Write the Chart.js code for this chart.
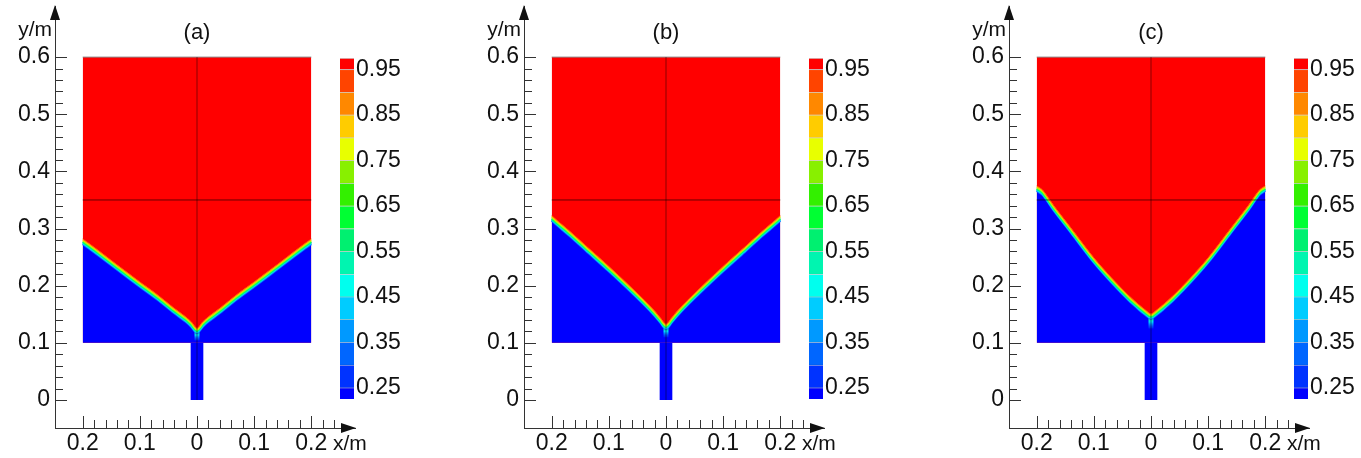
<!DOCTYPE html>
<html>
<head>
<meta charset="utf-8">
<script src="https://cdn.jsdelivr.net/npm/chart.js@4.4.0/dist/chart.umd.min.js"></script>
<style>
  body { margin: 0; background: #fff; }
  #wrap { position: relative; width: 1361px; height: 458px; overflow: hidden; }
  #wrap canvas { position: absolute; top: 0; }
</style>
</head>
<body>
<div id="wrap"></div>
<script>
// interface height y (m) at these |x| (m) values
const halfX = [0.2, 0.19, 0.17, 0.14, 0.1, 0.07, 0.04, 0.02, 0.01, 0];
const interfaceA = [0.277, 0.270, 0.255, 0.232, 0.202, 0.180, 0.156, 0.141, 0.132, 0.121];
const interfaceB = [0.318, 0.309, 0.292, 0.265, 0.229, 0.201, 0.172, 0.151, 0.139, 0.128];
const interfaceC = [0.370, 0.363, 0.335, 0.296, 0.244, 0.210, 0.179, 0.161, 0.153, 0.146];
// lower end of the mixed tail under the cusp
const tailEnd = [0.104, 0.110, 0.125];
const panelTitles = ["(a)", "(b)", "(c)"];

// domain geometry (m)
const boxX = [-0.2, 0.2];
const boxY = [0.1, 0.6];
const pipeX = [-0.0115, 0.0115];
const pipeY = [0, 0.1];
const blockLineY = 0.35;

// axes
const yMajor = [0, 0.1, 0.2, 0.3, 0.4, 0.5, 0.6];
const yTickLabels = ["0", "0.1", "0.2", "0.3", "0.4", "0.5", "0.6"];
const xMajor = [-0.2, -0.1, 0, 0.1, 0.2];
const xTickLabels = ["0.2", "0.1", "0", "0.1", "0.2"];

// colour bar (volume fraction)
const bandEdges = [0.225, 0.25, 0.3, 0.35, 0.4, 0.45, 0.5, 0.55, 0.6, 0.65, 0.7, 0.75, 0.8, 0.85, 0.9, 0.95, 0.975];
const bandColors = ["#0000ff", "#0033ff", "#0066ff", "#0099ff", "#00ccff", "#00ffee", "#00f5b0", "#00f070",
  "#00ff33", "#33f000", "#88f000", "#e8ff00", "#ffcc00", "#ff8800", "#ff4400", "#ff0000"];
const colorbarTicks = [0.25, 0.35, 0.45, 0.55, 0.65, 0.75, 0.85, 0.95];

const panelLeft = [0, 469, 954];
const RED = "#ff0000";
const BLUE = "#0000ff";

Chart.defaults.font.family = '"Liberation Sans", Arial, sans-serif';
Chart.defaults.font.size = 23;
Chart.defaults.color = "#111";

const minorY = Array.from({ length: 31 }, (_, i) => Math.round(i * 2) / 100);
const minorX = Array.from({ length: 23 }, (_, i) => Math.round(i * 2 - 20) / 100);

function labelFor(majors, labels, v) {
  const i = majors.findIndex(m => Math.abs(m - v) < 1e-6);
  return i < 0 ? "" : labels[i];
}

function interfacePoints(ys) {
  const left = halfX.map((h, i) => ({ x: -h, y: ys[i] }));
  const right = halfX.slice(0, -1).map((h, i) => ({ x: h, y: ys[i] })).reverse();
  return left.concat(right);
}

function line(points, extra) {
  return Object.assign({
    data: points, showLine: true, pointRadius: 0, borderWidth: 1,
    borderColor: "transparent", fill: false, tension: 0
  }, extra);
}

// shift some outlines a little so the smeared interface shows its colour layers
const shiftPlugin = {
  id: "shiftPlugin",
  beforeDatasetDraw(chart, args) {
    const ds = chart.data.datasets[args.index];
    chart.ctx.save();
    if (ds.shiftY) chart.ctx.translate(0, ds.shiftY);
  },
  afterDatasetDraw(chart) {
    chart.ctx.restore();
  }
};

// inward tick marks, arrow heads, axis names and the panel title
const axisDeco = {
  id: "axisDeco",
  afterDraw(chart, args, opts) {
    const { ctx, chartArea: a, scales: { x, y } } = chart;
    ctx.save();
    ctx.strokeStyle = "#333";
    ctx.lineWidth = 1;
    ctx.beginPath();
    y.ticks.forEach(t => {
      const py = Math.round(y.getPixelForValue(t.value)) + 0.5;
      ctx.moveTo(a.left, py);
      ctx.lineTo(a.left + (t.label ? 12 : 8), py);
    });
    x.ticks.forEach(t => {
      const px = Math.round(x.getPixelForValue(t.value)) + 0.5;
      ctx.moveTo(px, a.bottom);
      ctx.lineTo(px, a.bottom - (t.label ? 12 : 8));
    });
    ctx.stroke();

    ctx.fillStyle = "#111";
    ctx.beginPath();
    ctx.moveTo(a.left, a.top - 1);
    ctx.lineTo(a.left - 5, a.top + 14);
    ctx.lineTo(a.left + 5, a.top + 14);
    ctx.closePath();
    ctx.fill();
    ctx.beginPath();
    ctx.moveTo(a.right + 1, a.bottom);
    ctx.lineTo(a.right - 14, a.bottom - 5);
    ctx.lineTo(a.right - 14, a.bottom + 5);
    ctx.closePath();
    ctx.fill();

    ctx.font = '21px "Liberation Sans", Arial, sans-serif';
    ctx.textAlign = "right";
    ctx.textBaseline = "alphabetic";
    ctx.fillText("y/m", a.left - 3, 36);
    ctx.textAlign = "left";
    ctx.textBaseline = "middle";
    ctx.fillText("x/m", a.right - 22, a.bottom + 16);
    ctx.font = '22px "Liberation Sans", Arial, sans-serif';
    ctx.textAlign = "center";
    ctx.textBaseline = "alphabetic";
    ctx.fillText(opts.title, x.getPixelForValue(0), 39);
    ctx.restore();
  }
};

function fieldConfig(ys, tailY, title) {
  const pts = interfacePoints(ys);
  const tipY = ys[ys.length - 1];
  const tailGradient = (c) => {
    const { chart } = c;
    if (!chart.chartArea) return "#00e0ff";
    const y0 = chart.scales.y.getPixelForValue(tipY);
    const y1 = chart.scales.y.getPixelForValue(tailY);
    const g = chart.ctx.createLinearGradient(0, y0, 0, y1);
    g.addColorStop(0, "#00ff60");
    g.addColorStop(0.45, "#00d8ff");
    g.addColorStop(1, "rgba(0,80,255,0.4)");
    return g;
  };
  const band = (color, width, shift) =>
    line(pts, { borderColor: color, borderWidth: width, shiftY: shift, tension: 0.3, borderJoinStyle: "round" });

  // listed from bottom layer to top layer
  const layers = [
    line([{ x: boxX[0], y: boxY[1] }, { x: boxX[1], y: boxY[1] }],
      { fill: { value: boxY[0] }, backgroundColor: RED, borderColor: "#8c8c8c" }),
    line(pts, { fill: { value: boxY[0] }, backgroundColor: BLUE, tension: 0.3 }),
    line([{ x: pipeX[0], y: pipeY[1] }, { x: pipeX[1], y: pipeY[1] }],
      { fill: { value: pipeY[0] }, backgroundColor: BLUE }),
    line([{ x: 0, y: tipY }, { x: 0, y: tailY }], { borderColor: tailGradient, borderWidth: 5 }),
    band("#0070ff", 2, 2.4),
    band("#00d8ff", 2, 1.4),
    band("#00ff66", 2.2, 0.2),
    band("#aaff00", 1.6, -1),
    band("#ffc000", 1.3, -1.9),
    band("#ff6000", 1, -2.6),
    line([{ x: 0, y: pipeY[0] }, { x: 0, y: boxY[1] }], { borderColor: "rgba(0,0,0,0.45)", borderWidth: 1 }),
    line([{ x: boxX[0], y: blockLineY }, { x: boxX[1], y: blockLineY }], { borderColor: "rgba(0,0,0,0.6)", borderWidth: 1 })
  ];

  return {
    type: "scatter",
    data: { datasets: layers.reverse() },
    options: {
      responsive: false,
      animation: false,
      events: [],
      layout: { padding: { top: 6, right: 45, left: 0, bottom: 0 } },
      plugins: { legend: { display: false }, tooltip: { enabled: false }, axisDeco: { title: title } },
      scales: {
        x: {
          type: "linear", min: -0.2485, max: 0.2765,
          afterBuildTicks: s => { s.ticks = minorX.map(v => ({ value: v })); },
          afterFit: s => { s.height = 30; s.paddingLeft = 0; s.paddingRight = 0; },
          grid: { display: false, drawTicks: false },
          border: { display: true, color: "#333", width: 1 },
          ticks: { autoSkip: false, maxRotation: 0, padding: 2, callback: v => labelFor(xMajor, xTickLabels, v) }
        },
        y: {
          type: "linear", min: -0.049, max: 0.6894,
          afterBuildTicks: s => { s.ticks = minorY.map(v => ({ value: v })); },
          afterFit: s => { s.width = 55; s.paddingTop = 0; s.paddingBottom = 0; },
          grid: { display: false, drawTicks: false },
          border: { display: true, color: "#333", width: 1 },
          ticks: { autoSkip: false, padding: 5, callback: v => labelFor(yMajor, yTickLabels, v) }
        }
      }
    },
    plugins: [shiftPlugin, axisDeco]
  };
}

function colorbarConfig() {
  return {
    type: "bar",
    data: {
      labels: [""],
      datasets: bandColors.map((c, i) => ({
        data: [[bandEdges[i], bandEdges[i + 1]]],
        backgroundColor: c,
        borderColor: "rgba(0,0,0,0.18)",
        borderWidth: { top: 1, bottom: 0, left: 0, right: 0 },
        borderSkipped: false,
        grouped: false,
        barPercentage: 1,
        categoryPercentage: 1
      }))
    },
    options: {
      responsive: false,
      animation: false,
      events: [],
      layout: { padding: { top: 58, bottom: 59, left: 0, right: 0 } },
      plugins: { legend: { display: false }, tooltip: { enabled: false } },
      scales: {
        x: { display: false },
        y: {
          position: "right", min: bandEdges[0], max: bandEdges[bandEdges.length - 1],
          afterBuildTicks: s => { s.ticks = colorbarTicks.map(v => ({ value: v })); },
          afterFit: s => { s.width = 48; s.paddingTop = 0; s.paddingBottom = 0; },
          grid: { display: false, drawTicks: false },
          border: { display: false },
          ticks: { autoSkip: false, padding: 2, callback: v => v.toFixed(2) }
        }
      }
    }
  };
}

function makeCanvas(left, width) {
  const c = document.createElement("canvas");
  c.width = width;
  c.height = 458;
  c.style.left = left + "px";
  document.getElementById("wrap").appendChild(c);
  return c;
}

[interfaceA, interfaceB, interfaceC].forEach((ys, k) => {
  new Chart(makeCanvas(panelLeft[k], 400), fieldConfig(ys, tailEnd[k], panelTitles[k]));
  new Chart(makeCanvas(panelLeft[k] + 340, 62), colorbarConfig());
});
</script>
</body>
</html>
